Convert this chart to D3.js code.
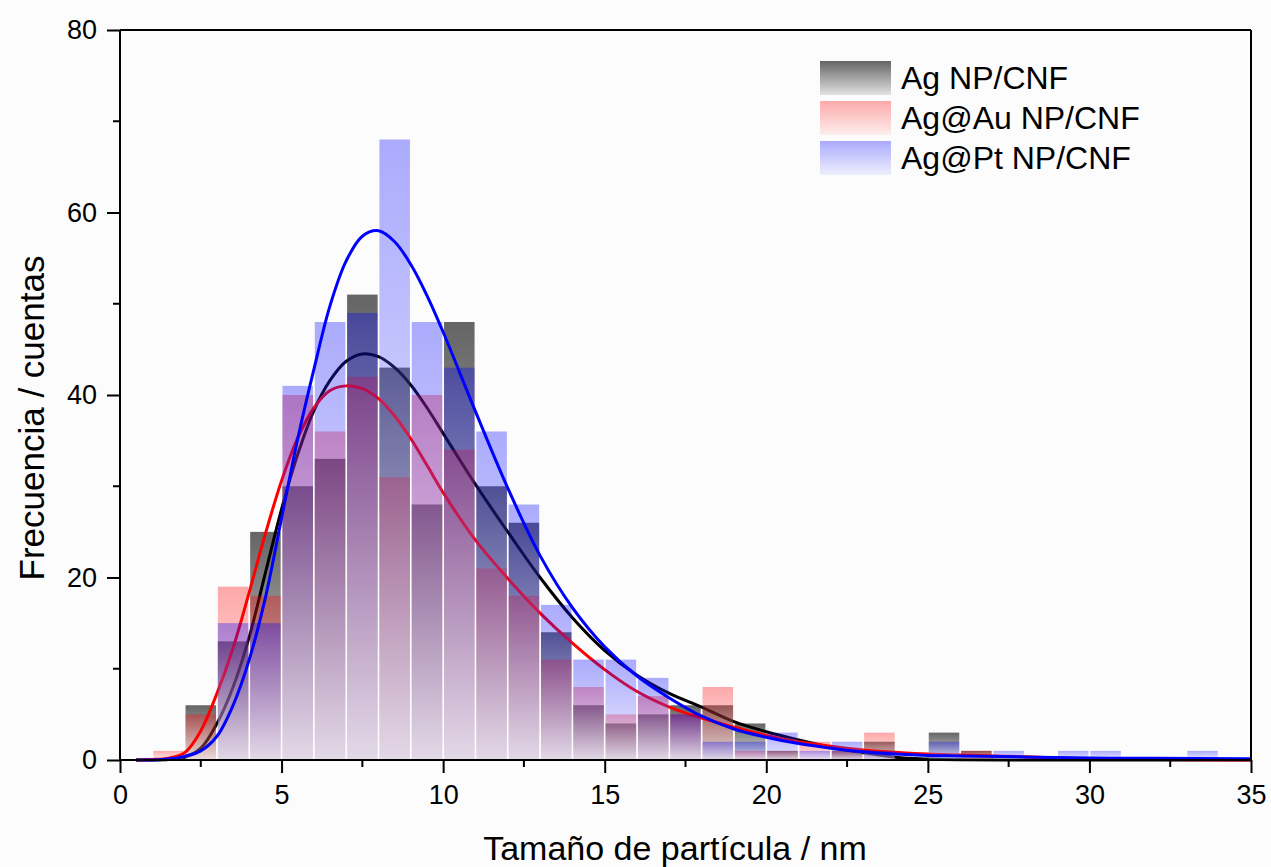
<!DOCTYPE html>
<html><head><meta charset="utf-8">
<script src="https://cdn.jsdelivr.net/npm/d3@7"></script>
<style>body{margin:0;background:#fcfcfc;} svg{display:block;}</style>
</head><body>
<svg id="c" width="1271" height="867"></svg>
<script>
// Bin left edges (width 1 nm)
const binStarts = d3.range(0, 35);
const seriesNames = ["Ag NP/CNF", "Ag@Au NP/CNF", "Ag@Pt NP/CNF"];
const agCounts   = [0,0,6,13,25,30,33,51,43,28,48,30,26,14,6,4,5,6,6,4,1,0,1,2,0,3,1,0,0,0,0,0,0,0,0];
const agAuCounts = [0,1,5,19,18,40,36,42,31,40,34,21,18,11,8,5,7,5,8,1,1,2,1,3,0,0,1,0,0,0,0,0,0,0,0];
const agPtCounts = [0,0,0,15,15,41,48,49,68,48,43,36,28,17,11,11,9,5,2,2,3,1,2,1,0,2,0,1,0,1,1,0,0,1,0];
// Fit curves
const fitX    = [0.5,1,1.5,2,2.5,3,3.5,4,4.5,5,5.5,6,6.5,7,7.5,8,8.5,9,9.5,10,11,12,13,14,15,16,17,18,19,20,21,22,23,24,25,26,28,30,32,35];
const agFit   = [0,0,0.05,0.3,1.3,4.0,8.0,13.5,20.5,27.5,33.5,38.3,41.6,43.7,44.5,44.2,43.0,41.1,38.6,35.8,30.2,25.0,20.0,15.6,12.0,9.3,7.3,5.8,4.2,3.1,2.2,1.4,0.8,0.3,0.1,0.02,0,0,0,0];
const agAuFit = [0,0.05,0.2,0.8,3.2,7.3,12.3,18.4,24.8,30.6,35.3,38.6,40.5,41.0,40.7,39.6,37.7,35.2,32.3,29.3,24.1,19.9,16.1,12.8,9.9,7.5,5.8,4.6,3.6,2.7,2.0,1.5,1.1,0.85,0.65,0.55,0.35,0.15,0.05,0];
const agPtFit = [0,0,0.1,0.4,1.0,2.6,6.0,11.0,17.8,26.5,35.2,42.8,49.8,54.7,57.4,58.0,56.8,54.3,50.9,46.9,38.2,29.8,22.4,16.7,12.4,9.2,6.8,4.8,3.4,2.5,1.8,1.3,0.9,0.65,0.5,0.45,0.33,0.22,0.18,0.15];
const xTicks = [0,5,10,15,20,25,30,35];
const xMinor = [2.5,7.5,12.5,17.5,22.5,27.5,32.5];
const yTicks = [0,20,40,60,80];
const yMinor = [10,30,50,70];

const colors = ["#000000", "#ff0000", "#0000ff"];
const alphas = [0.6, 0.33, 0.32];
const counts = [agCounts, agAuCounts, agPtCounts];
const fits = [agFit, agAuFit, agPtFit];

const svg = d3.select("#c");
const font = "'Liberation Sans', Arial, sans-serif";
const x = d3.scaleLinear().domain([0,35]).range([120,1251]);
const y = d3.scaleLinear().domain([0,80]).range([760,30]);

svg.append("rect").attr("width",1271).attr("height",867).attr("fill","#fcfcfc");

const defs = svg.append("defs");
colors.forEach((c,i)=>{
  const g = defs.append("linearGradient").attr("id","g"+i).attr("x1",0).attr("y1",0).attr("x2",0).attr("y2",1);
  g.append("stop").attr("offset","0%").attr("stop-color",c);
  g.append("stop").attr("offset","100%").attr("stop-color",d3.interpolateRgb(c,"#ffffff")(0.82));
});

const line = d3.line().x((d,i)=>x(fitX[i])).y(d=>y(d)).curve(d3.curveCatmullRom.alpha(0.5));

counts.forEach((arr,i)=>{
  svg.append("g").selectAll("rect").data(binStarts.filter(b=>arr[b]>0)).join("rect")
    .attr("x", b=>x(b)+0.9)
    .attr("width", b=>x(b+1)-x(b)-1.8)
    .attr("y", b=>y(arr[b]))
    .attr("height", b=>y(0)-y(arr[b]))
    .attr("fill","url(#g"+i+")")
    .attr("fill-opacity", alphas[i]);
  svg.append("path").datum(fits[i]).attr("d", line)
    .attr("fill","none").attr("stroke",colors[i]).attr("stroke-width",3);
});

// frame
const frame = svg.append("g").attr("stroke","#000").attr("stroke-width",2);
frame.append("line").attr("x1",x(0)).attr("x2",x(35)).attr("y1",y(80)).attr("y2",y(80));
frame.append("line").attr("x1",x(35)).attr("x2",x(35)).attr("y1",y(80)).attr("y2",y(0));

// axes
const xAxis = d3.axisBottom(x).tickValues(xTicks).tickSize(13).tickPadding(12).tickFormat(d3.format("d"));
const gx = svg.append("g").attr("transform","translate(0,760)").call(xAxis);
gx.append("g").selectAll("line").data(xMinor).join("line")
  .attr("x1",d=>x(d)).attr("x2",d=>x(d)).attr("y1",0).attr("y2",7).attr("stroke","#000").attr("stroke-width",2);
const yAxis = d3.axisLeft(y).tickValues(yTicks).tickSize(13).tickPadding(10).tickFormat(d3.format("d"));
const gy = svg.append("g").attr("transform","translate(120,0)").call(yAxis);
gy.append("g").selectAll("line").data(yMinor).join("line")
  .attr("x1",-7).attr("x2",0).attr("y1",d=>y(d)).attr("y2",d=>y(d)).attr("stroke","#000").attr("stroke-width",2);
[gx,gy].forEach(g=>{
  g.select(".domain").attr("stroke-width",2).attr("stroke","#000");
  g.selectAll(".tick line").attr("stroke-width",2);
  g.selectAll(".tick text").attr("font-family",font).attr("font-size",27).attr("fill","#000");
});
gx.select(".domain").attr("d","M120,0H1251");
gy.select(".domain").attr("d","M0,30V760");

// titles
svg.append("text").attr("x",675).attr("y",860).attr("text-anchor","middle")
  .attr("font-family",font).attr("font-size",34).text("Tamaño de partícula / nm");
svg.append("text").attr("transform","translate(44,418) rotate(-90)").attr("text-anchor","middle")
  .attr("font-family",font).attr("font-size",35).text("Frecuencia / cuentas");

// legend
const leg = svg.append("g");
seriesNames.forEach((n,i)=>{
  leg.append("rect").attr("x",820).attr("y",61+i*40).attr("width",71).attr("height",34)
    .attr("fill","url(#g"+i+")").attr("fill-opacity",alphas[i]);
  leg.append("text").attr("x",901).attr("y",89+i*40).attr("font-family",font).attr("font-size",32).text(n);
});
</script>
</body></html>
